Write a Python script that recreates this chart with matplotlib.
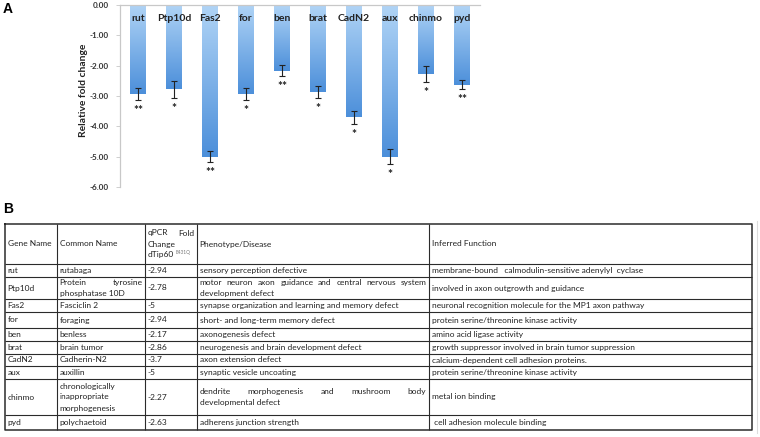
import matplotlib
matplotlib.use('Agg')
import matplotlib.pyplot as plt
import numpy as np
from matplotlib.colors import LinearSegmentedColormap

# ---------------- data ----------------
genes = ['rut', 'Ptp10d', 'Fas2', 'for', 'ben', 'brat', 'CadN2', 'aux', 'chinmo', 'pyd']
fold_change = [-2.94, -2.78, -5, -2.94, -2.17, -2.86, -3.7, -5, -2.27, -2.63]
errors = [0.20, 0.28, 0.18, 0.20, 0.18, 0.20, 0.22, 0.24, 0.26, 0.15]
significance = ['**', '*', '**', '*', '**', '*', '*', '*', '*', '**']
yticks = [0, -1, -2, -3, -4, -5, -6]

common_names = ['rutabaga', 'Protein tyrosine\nphosphatase 10D', 'Fasciclin 2', 'foraging',
                'benless', 'brain tumor', 'Cadherin-N2', 'auxillin',
                'chronologically\ninappropriate\nmorphogenesis', 'polychaetoid']
phenotypes = ['sensory perception defective',
              'motor neuron axon guidance and central nervous system\ndevelopment defect',
              'synapse organization and learning and memory defect',
              'short- and long-term memory defect',
              'axonogenesis defect',
              'neurogenesis and brain development defect',
              'axon extension defect',
              'synaptic vesicle uncoating',
              'dendrite morphogenesis and mushroom body\ndevelopmental defect',
              'adherens junction strength']
functions = ['membrane-bound   calmodulin-sensitive adenylyl  cyclase',
             'involved in axon outgrowth and guidance',
             'neuronal recognition molecule for the MP1 axon pathway',
             'protein serine/threonine kinase activity',
             'amino acid ligase activity',
             'growth suppressor involved in brain tumor suppression',
             'calcium-dependent cell adhesion proteins.',
             'protein serine/threonine kinase activity',
             'metal ion binding',
             ' cell adhesion molecule binding']
headers = ['Gene Name', 'Common Name', 'qPCR Fold\nChange\ndTip60', 'Phenotype/Disease', 'Inferred Function']
header_sup = 'E431Q'

# ---------------- figure ----------------
W, H = 760, 437
fig = plt.figure(figsize=(W / 100, H / 100), dpi=100)
FONT = ['Lato', 'DejaVu Sans']

# pixel-coordinate overlay for table and panel letters
tab = fig.add_axes([0, 0, 1, 1])
tab.set_xlim(0, W)
tab.set_ylim(H, 0)
tab.axis('off')

tab.text(3, 9, 'A', fontsize=10, fontweight='bold', family='Liberation Sans', va='center', ha='left')
tab.text(3, 209, 'B', fontsize=10, fontweight='bold', family='Liberation Sans', va='center', ha='left')

# ---------------- bar chart ----------------
ax = fig.add_axes([120 / W, 1 - 187 / H, 360 / W, 182 / H])
x = np.arange(len(genes))
bars = ax.bar(x, fold_change, width=0.42, color='none', edgecolor='none', zorder=2)
cmap = LinearSegmentedColormap.from_list('blu', ['#b0d4f6', '#4c8fda'])
grad = np.linspace(1, 0, 256).reshape(-1, 1)
for b in bars:
    x0, w, h = b.get_x(), b.get_width(), b.get_height()
    im = ax.imshow(grad, extent=[x0, x0 + w, h, 0], origin='lower', aspect='auto',
                   cmap=cmap, vmin=0, vmax=1, zorder=2, interpolation='bilinear')
    im.set_clip_path(b)

ax.errorbar(x, fold_change, yerr=errors, fmt='none', ecolor='#222222',
            elinewidth=0.8, capsize=2, capthick=0.8, zorder=3)

for xi, v, e, s in zip(x, fold_change, errors, significance):
    ax.annotate(s, (xi, v - e), xytext=(0, -3.5), textcoords='offset points',
                ha='center', va='top', fontsize=8.5, fontweight='bold', color='#222222',
                family=FONT)
    ax.text(xi, -0.43, genes[xi], ha='center', va='center', fontsize=7.5,
            fontweight='bold', color='#222222', family=FONT, zorder=4)

ax.set_xlim(-0.5, len(genes) - 0.5)
ax.set_ylim(-6, 0)
ax.set_yticks(yticks)
ax.set_yticklabels([f'{t:.2f}' for t in yticks], fontsize=5.9, fontweight='bold',
                   color='#333333', family=FONT)
ax.set_xticks([])
ax.tick_params(axis='y', length=3, width=0.6, color='#c8c8c8', pad=5)
for sp in ['right', 'bottom']:
    ax.spines[sp].set_visible(False)
for sp in ['left', 'top']:
    ax.spines[sp].set_color('#c8c8c8')
    ax.spines[sp].set_linewidth(0.9)
ax.patch.set_alpha(0)
ax.set_ylabel('Relative fold change', fontsize=7.4, fontweight='bold', color='#222222', family=FONT)
ax.yaxis.set_label_coords(-0.09, 0.53)

# ---------------- table ----------------
cols = [5, 57, 145, 197, 429, 752]
rows = [224, 264, 277, 299, 312, 328, 341, 354, 366, 379, 415, 430]
FS = 6.0
LH = 11.0
TXT = '#222222'
renderer = fig.canvas.get_renderer()


def text_width(s, size=FS):
    t = tab.text(0, 0, s, fontsize=size, family=FONT)
    bb = t.get_window_extent(renderer)
    t.remove()
    return bb.width


def cell(text, c, r, pad=2.5):
    x0, x1 = cols[c] + pad, cols[c + 1] - pad
    y0, y1 = rows[r], rows[r + 1]
    lines = text.split('\n')
    n = len(lines)
    yc = (y0 + y1) / 2
    out = []
    for i, line in enumerate(lines):
        y = yc + (i - (n - 1) / 2) * LH
        words = line.split()
        if i < n - 1 and len(words) > 1:
            widths = [text_width(wd) for wd in words]
            gap = (x1 - x0 - sum(widths)) / (len(words) - 1)
            xx = x0
            for wd, ww in zip(words, widths):
                tab.text(xx, y, wd, fontsize=FS, family=FONT, color=TXT, va='center', ha='left')
                xx += ww + gap
            out.append((xx, y))
        else:
            tab.text(x0, y, line, fontsize=FS, family=FONT, color=TXT, va='center', ha='left')
            out.append((x0 + text_width(line), y))
    return out


# headers
for c, h in enumerate(headers):
    res = cell(h, c, 0)
    if c == 2:
        xe, ye = res[-1]
        tab.text(xe + 1.5, ye - 2.5, header_sup, fontsize=3.4, family=FONT, color='#777777',
                 va='center', ha='left')

for i in range(len(genes)):
    r = i + 1
    cell(genes[i], 0, r)
    cell(common_names[i], 1, r)
    cell(f'{fold_change[i]:g}', 2, r)
    cell(phenotypes[i], 3, r)
    cell(functions[i], 4, r)

# faint spreadsheet gridline beside the table
tab.plot([757, 757], [rows[0] - 3, rows[-1] + 3], color='#dddddd', lw=0.8)

# grid lines
LC = '#2b2b2b'
for yv in rows[1:-1]:
    tab.plot([cols[0], cols[-1]], [yv, yv], color=LC, lw=0.8, solid_capstyle='butt')
for xv in cols[1:-1]:
    tab.plot([xv, xv], [rows[0], rows[-1]], color=LC, lw=0.8, solid_capstyle='butt')
tab.plot([cols[0], cols[-1], cols[-1], cols[0], cols[0]],
         [rows[0], rows[0], rows[-1], rows[-1], rows[0]], color=LC, lw=1.1)

fig.savefig('out.png', dpi=100)
